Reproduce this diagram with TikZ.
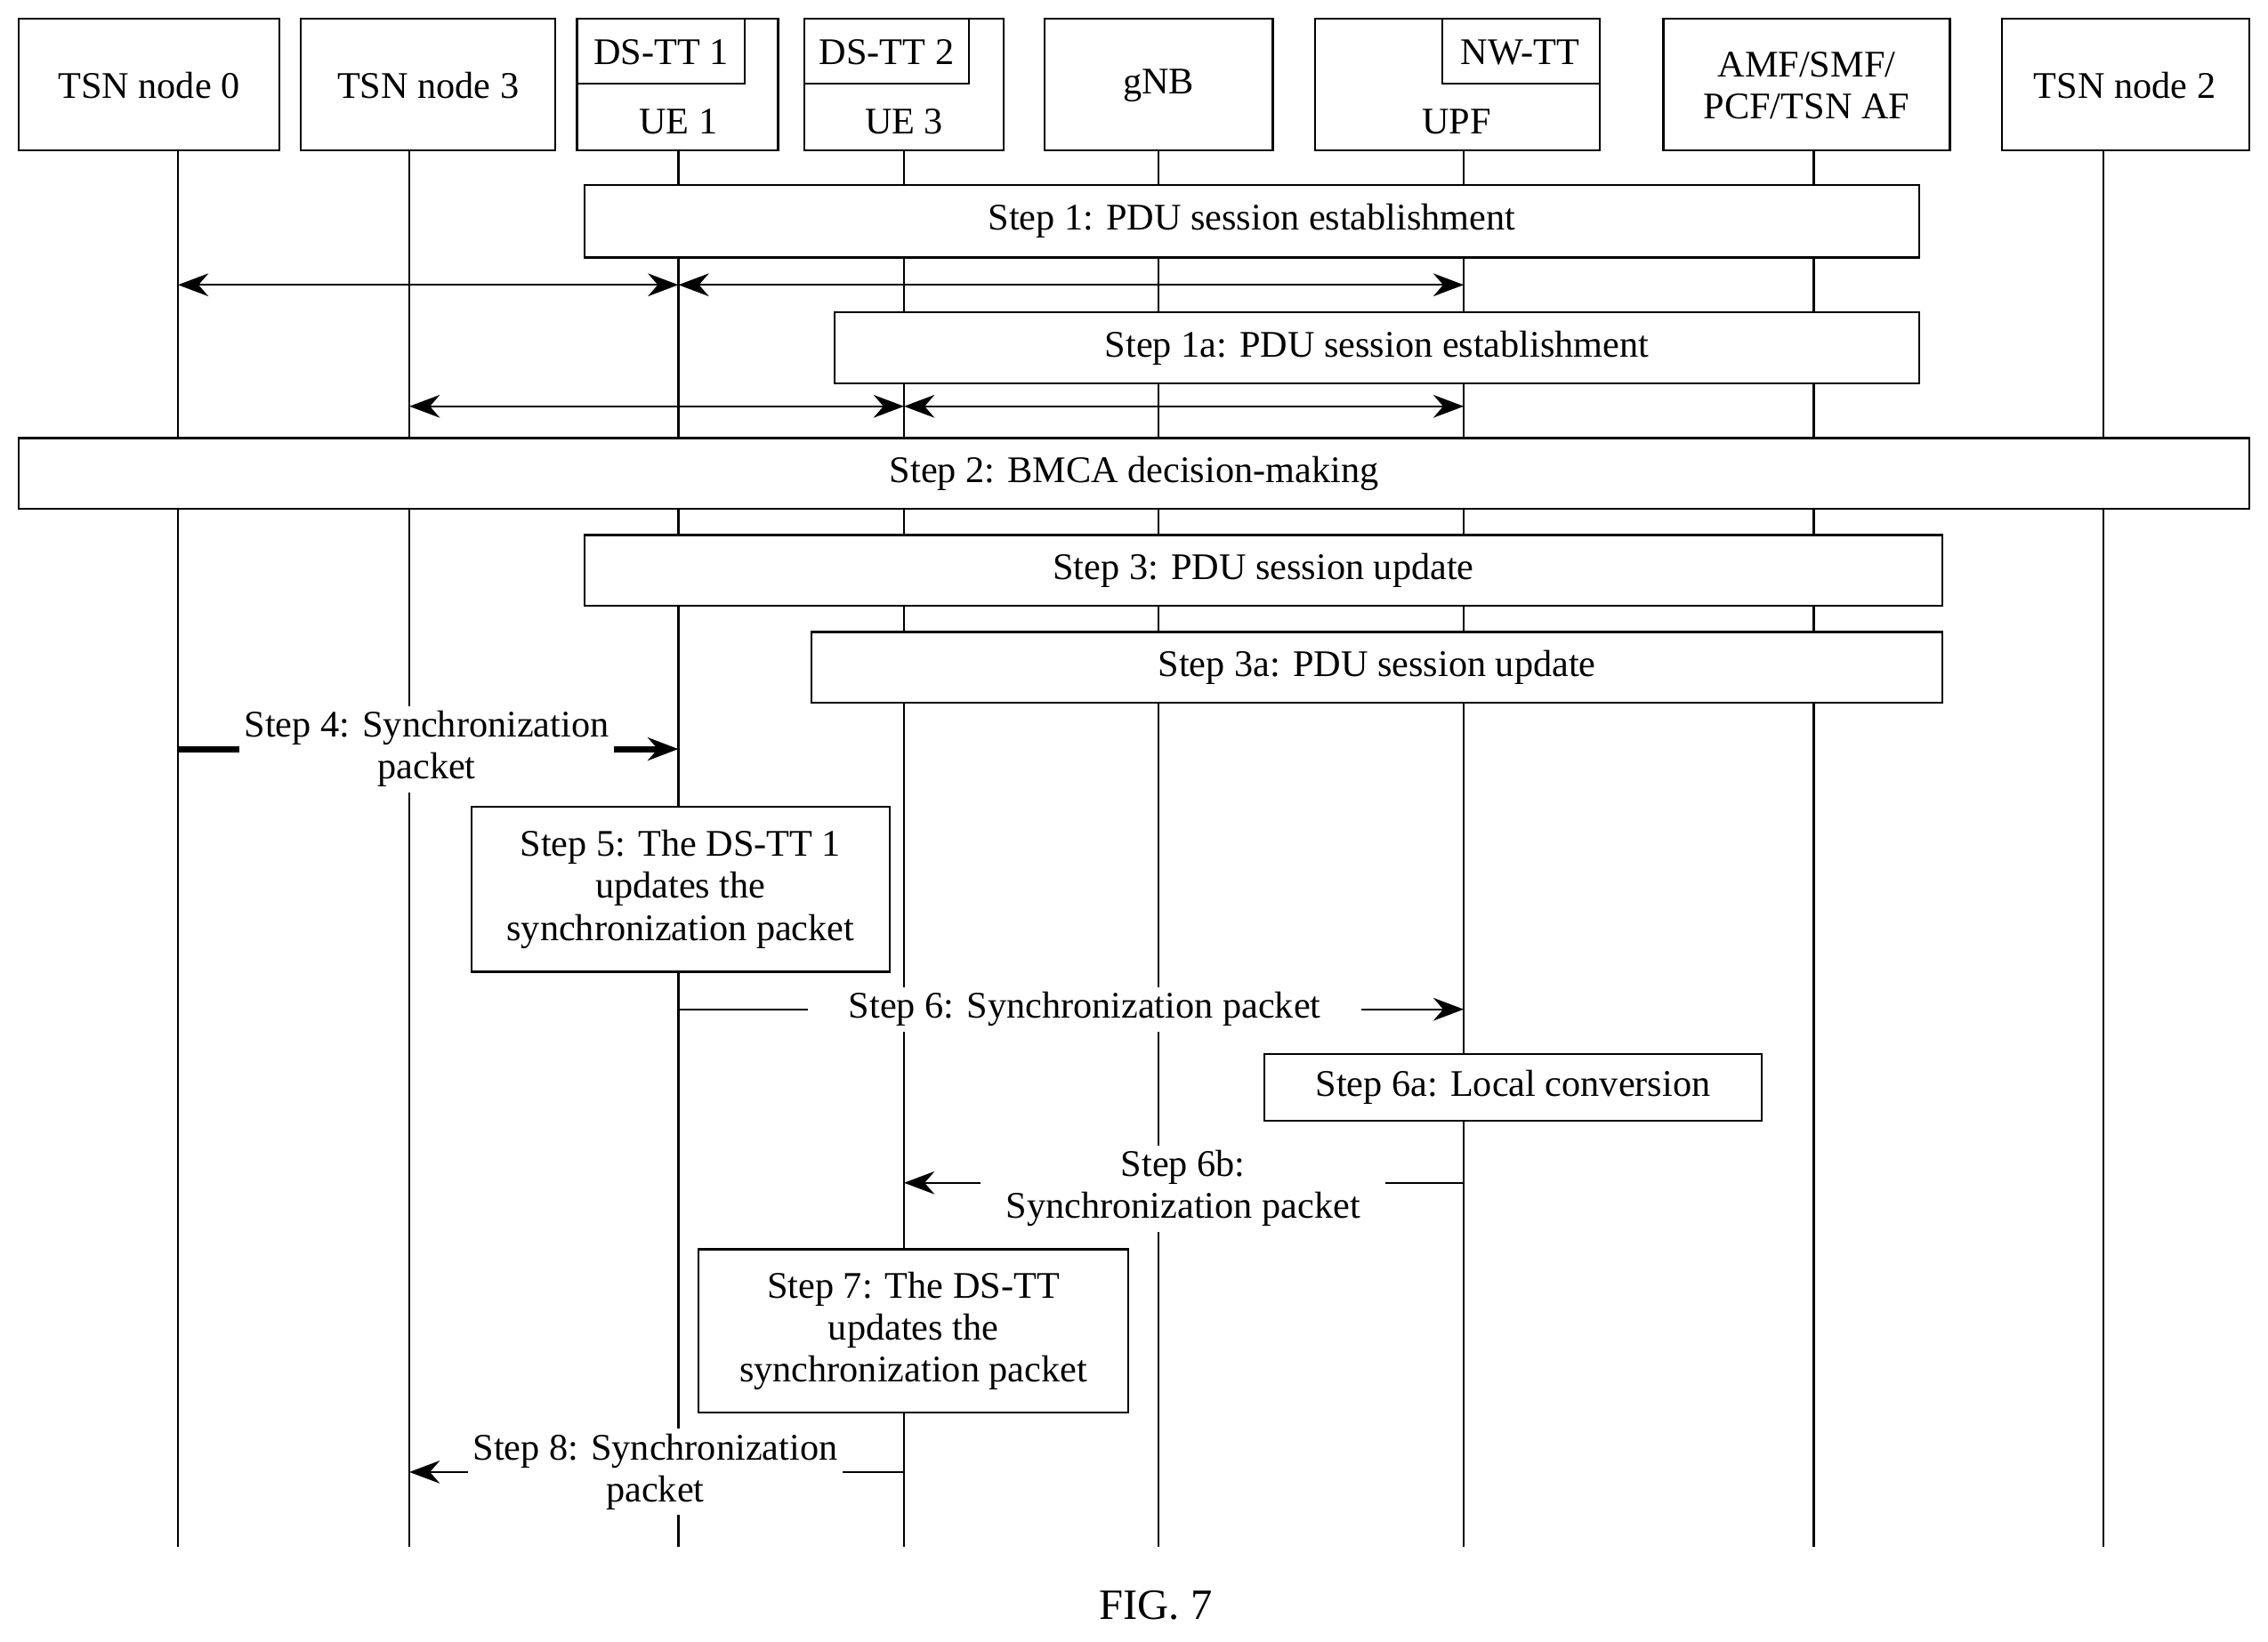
\documentclass[tikz,border=0pt]{standalone}
\usepackage{fontspec}
\setmainfont{Liberation Serif}
\usetikzlibrary{arrows.meta}
\tikzset{
	ent/.style={draw,fill=white,thick,inner sep=0pt},
	stepbox/.style={draw,fill=white,thick,inner sep=2pt,align=center},
	msg/.style={thick,-{Stealth[length=12pt,width=9pt]}},
	both/.style={thick,{Stealth[length=12pt,width=9pt]}-{Stealth[length=12pt,width=9pt]}},
	lbl/.style={fill=white,align=center,inner sep=2pt}
}
\begin{document}
\begin{tikzpicture}[x=0.02cm,y=-0.02cm,font=\fontsize{14.8}{16.5}\selectfont]
	\useasboundingbox (0,0) rectangle (1568,1135);
	% lifelines
	\foreach \n/\x in {tsn0/123,tsn3/283,ue1/469,ue3/625,gnb/801,upf/1012,amf/1254,tsn2/1454}{
		\coordinate (\n) at (\x,104);
		\coordinate (\n-e) at (\x,1070);
		\draw[thick] (\n) -- (\n-e);
	}
	% entities
	\draw[ent] (13,13) rectangle (193,104); \node (tsn0t) at (103,59) {TSN node 0};
	\draw[ent] (208,13) rectangle (384,104); \node (tsn3t) at (296,59) {TSN node 3};
	\draw[ent] (399,13) rectangle (538,104); \draw[thick] (399,58) -| (515,13);
	\node (dstt1) at (457,36) {DS-TT 1}; \node (ue1t) at (469,84) {UE 1};
	\draw[ent] (556,13) rectangle (694,104); \draw[thick] (556,58) -| (670,13);
	\node (dstt2) at (613,36) {DS-TT 2}; \node (ue3t) at (625,84) {UE 3};
	\draw[ent] (722,13) rectangle (880,104); \node (gnbt) at (801,59) {gNB};
	\draw[ent] (909,13) rectangle (1106,104); \draw[thick] (997,13) |- (1106,58);
	\node (nwtt) at (1051,36) {NW-TT}; \node (upft) at (1007,84) {UPF};
	\draw[ent] (1150,13) rectangle (1348,104);
	\node[align=center] (amft) at (1249,59) {AMF/SMF/\\PCF/TSN AF};
	\draw[ent] (1384,13) rectangle (1555,104); \node (tsn2t) at (1469,59) {TSN node 2};
	% steps
	\draw[stepbox] (404,128) rectangle node (s1) {Step 1: PDU session establishment} (1327,178);
	\coordinate (a0) at (123,197); \coordinate (a1) at (469,197); \coordinate (a2) at (1012,197);
	\draw[both] (a0) -- (a1); \draw[both] (a1) -- (a2);
	\draw[stepbox] (577,216) rectangle node (s1a) {Step 1a: PDU session establishment} (1327,265);
	\coordinate (b0) at (283,281); \coordinate (b1) at (625,281); \coordinate (b2) at (1012,281);
	\draw[both] (b0) -- (b1); \draw[both] (b1) -- (b2);
	\draw[stepbox] (13,303) rectangle node (s2) {Step 2: BMCA decision-making} (1555,352);
	\draw[stepbox] (404,370) rectangle node (s3) {Step 3: PDU session update} (1343,419);
	\draw[stepbox] (561,437) rectangle node (s3a) {Step 3a: PDU session update} (1343,486);
	% step 4
	\coordinate (c0) at (123,518); \coordinate (c1) at (469,518);
	\draw[msg,line width=2.5pt] (c0) -- (c1);
	\node[lbl] (s4) at (295,518) {Step 4: Synchronization\\packet};
	\draw[stepbox] (326,558) rectangle node (s5) {Step 5: The DS-TT 1\\updates the\\synchronization packet} (615,672);
	% step 6
	\coordinate (d0) at (469,698); \coordinate (d1) at (1012,698);
	\draw[msg] (d0) -- (d1);
	\node[lbl,inner xsep=16pt] (s6) at (750,698) {Step 6: Synchronization packet};
	\draw[stepbox] (874,729) rectangle node (s6a) {Step 6a: Local conversion} (1218,775);
	\coordinate (e0) at (1012,818); \coordinate (e1) at (625,818);
	\draw[msg] (e0) -- (e1);
	\node[lbl,inner xsep=10pt] (s6b) at (818,822) {Step 6b:\\Synchronization packet};
	\draw[stepbox] (483,864) rectangle node (s7) {Step 7: The DS-TT\\updates the\\synchronization packet} (780,977);
	\coordinate (f0) at (625,1018); \coordinate (f1) at (283,1018);
	\draw[msg] (f0) -- (f1);
	\node[lbl] (s8) at (453,1018) {Step 8: Synchronization\\packet};
	\node (fig) at (799,1110) {\fontsize{17}{19}\selectfont FIG. 7};
\end{tikzpicture}
\end{document}
